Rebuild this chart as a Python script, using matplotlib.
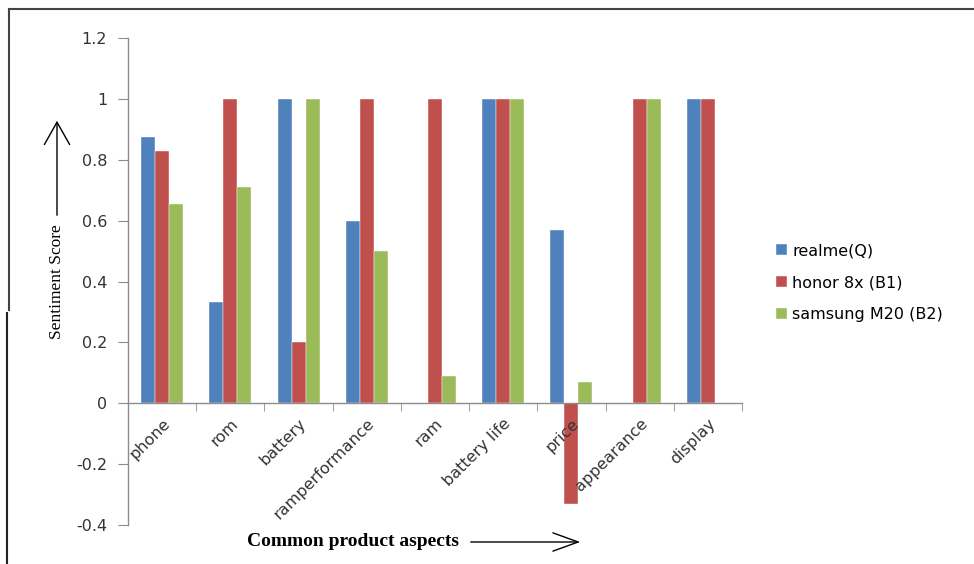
import numpy as np
import matplotlib
matplotlib.use('Agg')
import matplotlib.pyplot as plt
from matplotlib.lines import Line2D

aspects = ['phone', 'rom', 'battery', 'ramperformance', 'ram',
           'battery life', 'price', 'appearance', 'display']
realme = [0.875, 0.333, 1.0, 0.6, 0.0, 1.0, 0.57, 0.0, 1.0]
honor = [0.83, 1.0, 0.2, 1.0, 1.0, 1.0, -0.33, 1.0, 1.0]
samsung = [0.655, 0.71, 1.0, 0.5, 0.09, 1.0, 0.07, 1.0, 0.0]
series_names = ['realme(Q)', 'honor 8x (B1)', 'samsung M20 (B2)']
yticks = [-0.4, -0.2, 0, 0.2, 0.4, 0.6, 0.8, 1, 1.2]

colors = ['#4F81BD', '#C0504D', '#9BBB59']

W, H = 974, 564
fig = plt.figure(figsize=(W / 100, H / 100), dpi=100)
ax = fig.add_axes([128 / W, 1 - 525 / H, (742 - 128) / W, (525 - 38) / H])

x = np.arange(len(aspects))
bw = 0.205
for k, (vals, name) in enumerate(zip([realme, honor, samsung], series_names)):
    ax.bar(x + (k - 1) * bw, vals, bw, color=colors[k], label=name,
           edgecolor='white', linewidth=0.3)

ax.set_xlim(-0.5, len(aspects) - 0.5)
ax.set_ylim(-0.4, 1.2)
ax.set_yticks(yticks)
ax.set_yticklabels(['-0.4', '-0.2', '0', '0.2', '0.4', '0.6', '0.8', '1', '1.2'])

ax.spines['top'].set_visible(False)
ax.spines['right'].set_visible(False)
ax.spines['bottom'].set_position(('data', 0))
for s in ['left', 'bottom']:
    ax.spines[s].set_color('#8c8c8c')
    ax.spines[s].set_linewidth(1.0)

ax.set_xticks(x)
ax.set_xticklabels(aspects, rotation=45, ha='right', va='top',
                   rotation_mode='anchor', fontsize=11.5, color='#333333')
ax.set_xticks(np.arange(-0.5, len(aspects)), minor=True)
ax.tick_params(axis='x', which='major', length=0, pad=9)
ax.tick_params(axis='x', which='minor', length=6, color='#8c8c8c')
ax.tick_params(axis='y', length=7, color='#8c8c8c', labelsize=11.5,
               labelcolor='#333333', pad=8)

fig.legend(loc='upper left', bbox_to_anchor=(770 / W, 1 - 237 / H),
           frameon=False, fontsize=11.5, handlelength=0.65, handleheight=0.65,
           handletextpad=0.35, labelspacing=1.05, borderaxespad=0)

# axis titles drawn like in the original figure
fig.text(57 / W, 1 - 282 / H, 'Sentiment Score', rotation=90, ha='center',
         va='center', family='Liberation Serif', fontsize=12.5)
fig.text(247 / W, 1 - 542 / H, 'Common product aspects', ha='left',
         va='center', family='Liberation Serif', fontweight='bold', fontsize=14)

fig.add_artist(matplotlib.patches.FancyArrowPatch(
    (57 / W, 1 - 218 / H), (57 / W, 1 - 118 / H), transform=fig.transFigure,
    arrowstyle='->,head_length=1.15,head_width=0.65', mutation_scale=14,
    color='black', linewidth=1.0))
fig.add_artist(matplotlib.patches.FancyArrowPatch(
    (468 / W, 1 - 542 / H), (583 / W, 1 - 542 / H), transform=fig.transFigure,
    arrowstyle='->,head_length=1.3,head_width=0.47', mutation_scale=14,
    color='black', linewidth=1.0))

# page frame lines
fig.add_artist(Line2D([9 / W, 1], [1 - 9 / H, 1 - 9 / H], transform=fig.transFigure,
                      color='#444444', linewidth=1.5))
fig.add_artist(Line2D([9 / W, 9 / W], [1 - 9 / H, 1 - 310 / H], transform=fig.transFigure,
                      color='#444444', linewidth=1.5))
fig.add_artist(Line2D([7 / W, 7 / W], [1 - 313 / H, 0], transform=fig.transFigure,
                      color='#222222', linewidth=1.5))

fig.savefig('out.png', dpi=100)
